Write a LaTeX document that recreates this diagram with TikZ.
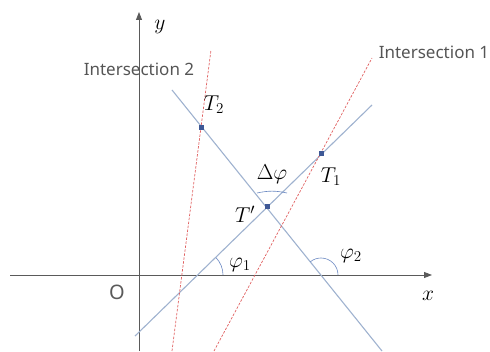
\RequirePackage{fix-cm}
\documentclass[tikz,border=0pt]{standalone}
\usepackage{fontspec}
\setmainfont{Noto Sans}
\usetikzlibrary{arrows.meta,positioning,calc}
\definecolor{axisgray}{HTML}{5A5A5A}
\definecolor{linegray}{HTML}{9FB2CF}
\definecolor{dashred}{HTML}{E06060}
\definecolor{markblue}{HTML}{3E5896}
\definecolor{arcblue}{HTML}{6A88C2}
\definecolor{textgray}{HTML}{555555}

\begin{document}
\begin{tikzpicture}[
  x=1pt, y=1pt,
  every node/.style={font=\fontsize{21.5}{25}\selectfont},
  axis/.style={draw=axisgray, line width=0.9pt, -{Triangle[length=8pt,width=6pt]}},
  ray/.style={draw=linegray, line width=1.1pt},
  guide/.style={draw=dashred, line width=0.7pt, dash pattern=on 2.5pt off 1.5pt},
  ptmark/.style={fill=markblue, inner sep=0pt, minimum size=5pt},
  angarc/.style={draw=arcblue, line width=0.6pt},
  caption/.style={text=textgray, font=\fontsize{17}{20}\selectfont},
]
\useasboundingbox (0,0) rectangle (490,351);
% Axis
\coordinate (xs) at (10,76);
\coordinate (xe) at (432,76);
\coordinate (ys) at (139,0);
\coordinate (ye) at (139,339);
\draw[axis] (xs) -- (xe);
\draw[axis] (ys) -- (ye);
\node (ylab) at (160,324) {$y$};
\node (xlab) at (428,55) {$x$};
\node[font=\fontsize{20}{24}\selectfont, text=axisgray] (orig) at (117,59) {O};
% Lines through the points
\coordinate (l1s) at (135,15);
\coordinate (l1e) at (372,246);
\coordinate (l2s) at (172,261);
\coordinate (l2e) at (382,0);
\draw[ray] (l1s) -- (l1e);
\draw[ray] (l2s) -- (l2e);
% Dashed guides
\coordinate (g1s) at (214,0);
\coordinate (g1e) at (372,293);
\coordinate (g2s) at (172,0);
\coordinate (g2e) at (211,301);
\draw[guide] (g1s) -- (g1e);
\draw[guide] (g2s) -- (g2e);
\node[caption] (int1) at (434,299) {Intersection 1};
\node[caption] (int2) at (139,282) {Intersection 2};
% Points
\node[ptmark] (T1) at (321,197) {};
\node[ptmark] (T2) at (201,223) {};
\node[ptmark] (Tp) at (267,144) {};
\node (T1lab) at (331,174) {$T_1$};
\node (T2lab) at (214,246) {$T_2$};
\node (Tplab) at (245,137) {$T'$};
% Angles
\coordinate (c1) at (198,76);
\coordinate (c2) at (321,76);
\coordinate (da) at (257,158);
\coordinate (db) at (287,158);
\draw[angarc] ($(c1)+(25,0)$) arc[start angle=0, end angle=44, radius=25];
\draw[angarc] ($(c2)+(17,0)$) arc[start angle=0, end angle=129, radius=17];
\draw[angarc] (da) to[bend left=12] (db);
\node (phi1) at (240,86) {$\varphi_1$};
\node (phi2) at (351,95) {$\varphi_2$};
\node (dphi) at (272,177) {$\Delta\varphi$};
\end{tikzpicture}
\end{document}
